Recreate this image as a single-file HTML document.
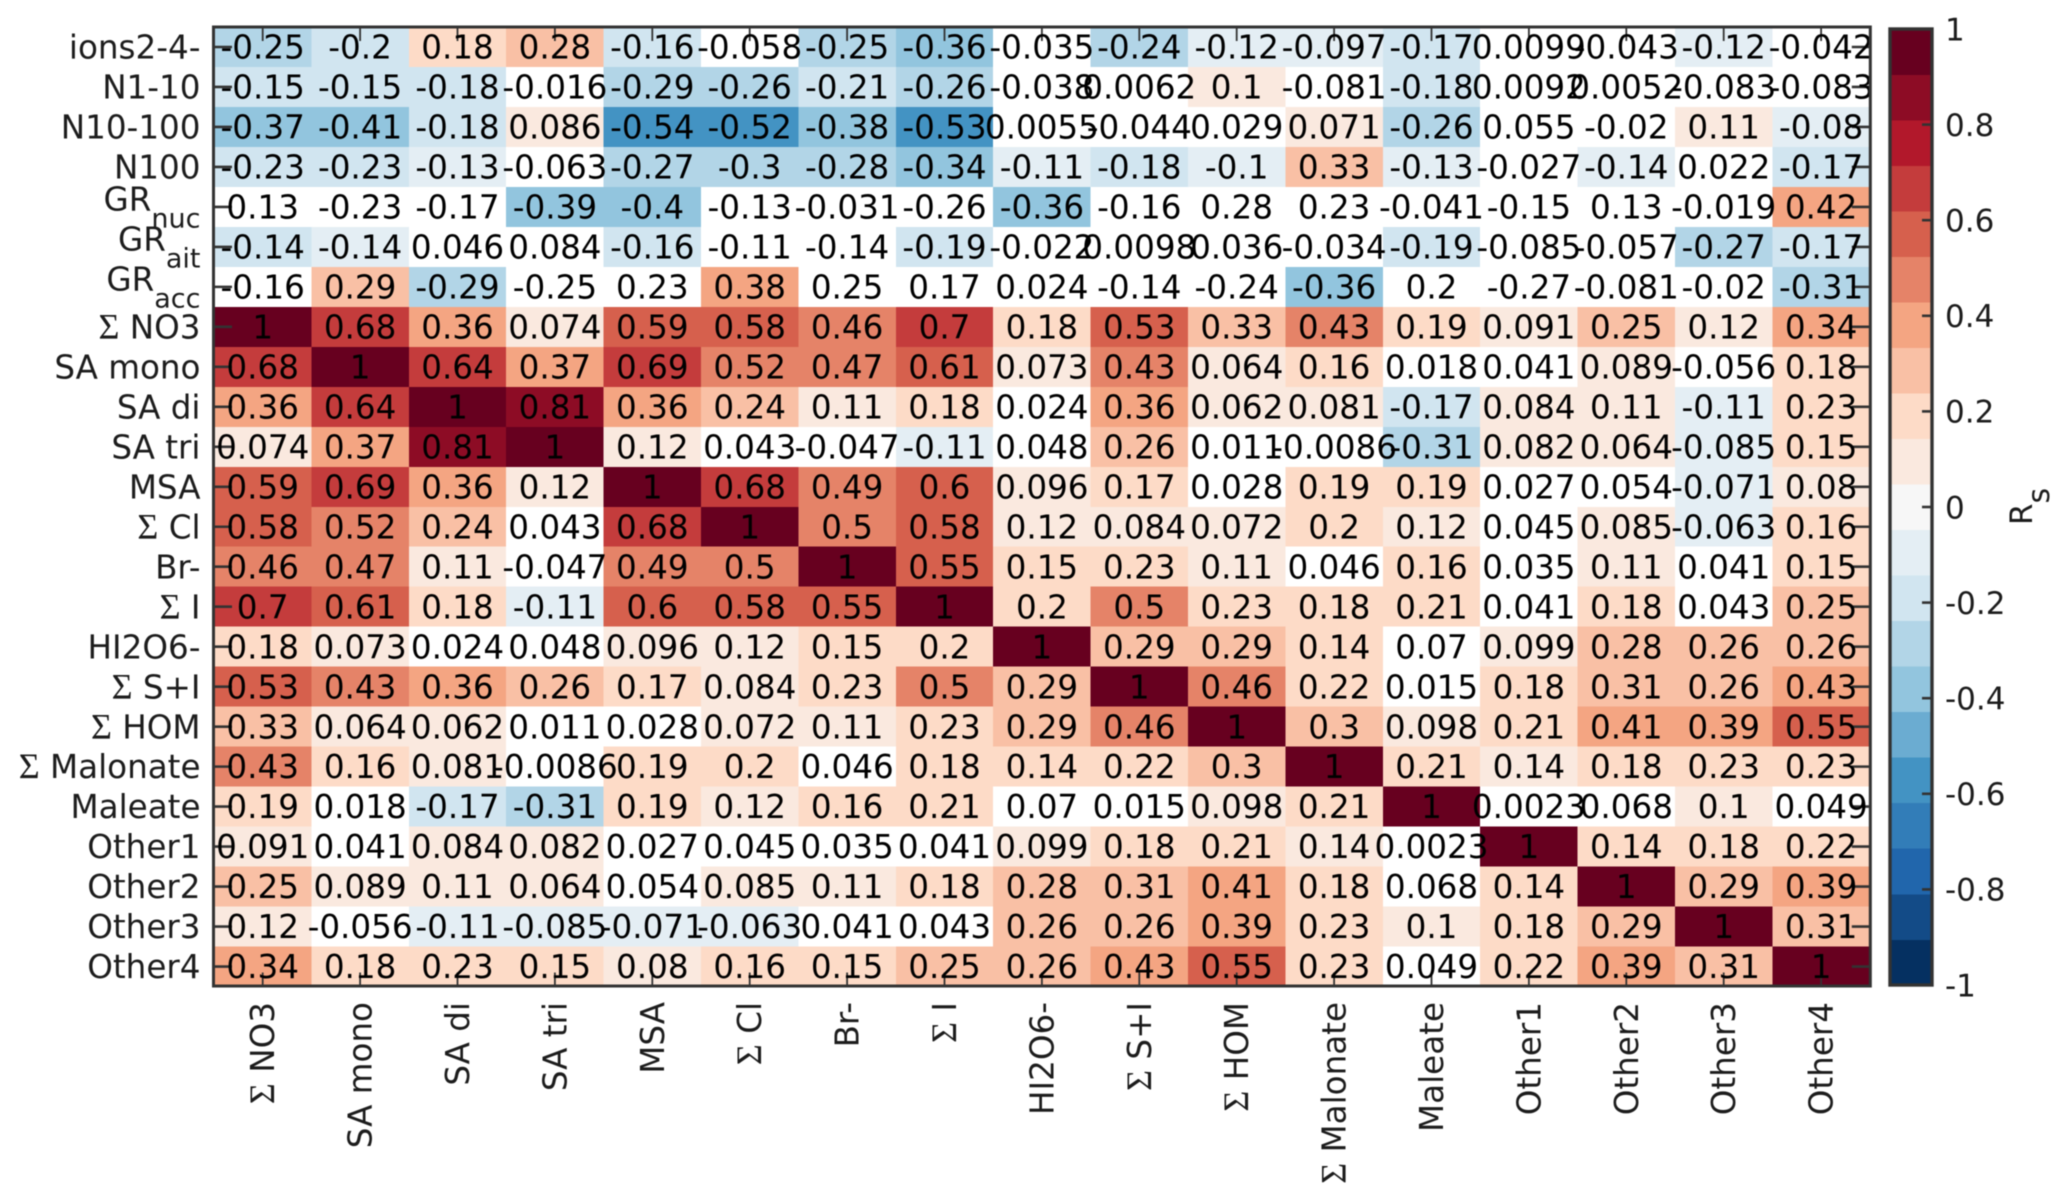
<!DOCTYPE html>
<html lang="en">
<head>
<meta charset="utf-8">
<title>Spearman correlation heatmap</title>
<style>
html,body{margin:0;padding:0;background:#fff;width:2067px;height:1202px;overflow:hidden}
svg{display:block;font-family:"DejaVu Sans","Liberation Sans",sans-serif;filter:blur(0.6px)}
</style>
</head>
<body>
<svg id="chart" xmlns="http://www.w3.org/2000/svg" width="2067" height="1202" viewBox="0 0 2067 1202"></svg>
<script>
const rowLabels = ['ions2-4-','N1-10','N10-100','N100','GR_nuc','GR_ait','GR_acc','Σ NO3','SA mono','SA di','SA tri','MSA','Σ Cl','Br-','Σ I','HI2O6-','Σ S+I','Σ HOM','Σ Malonate','Maleate','Other1','Other2','Other3','Other4'];
const columnLabels = ['Σ NO3','SA mono','SA di','SA tri','MSA','Σ Cl','Br-','Σ I','HI2O6-','Σ S+I','Σ HOM','Σ Malonate','Maleate','Other1','Other2','Other3','Other4'];
const correlationValues = [
[-0.25,-0.2,0.18,0.28,-0.16,-0.058,-0.25,-0.36,-0.035,-0.24,-0.12,-0.097,-0.17,0.0099,-0.043,-0.12,-0.042],
[-0.15,-0.15,-0.18,-0.016,-0.29,-0.26,-0.21,-0.26,-0.038,0.0062,0.1,-0.081,-0.18,0.0092,0.0052,-0.083,-0.083],
[-0.37,-0.41,-0.18,0.086,-0.54,-0.524,-0.38,-0.53,0.0055,-0.044,0.029,0.071,-0.26,0.055,-0.02,0.11,-0.08],
[-0.23,-0.23,-0.13,-0.063,-0.27,-0.3,-0.28,-0.34,-0.11,-0.18,-0.1,0.33,-0.13,-0.027,-0.14,0.022,-0.17],
[0.13,-0.23,-0.17,-0.39,-0.4,-0.13,-0.031,-0.26,-0.36,-0.16,0.28,0.23,-0.041,-0.15,0.13,-0.019,0.42],
[-0.144,-0.14,0.046,0.084,-0.16,-0.11,-0.14,-0.19,-0.022,0.0098,0.036,-0.034,-0.19,-0.085,-0.057,-0.27,-0.17],
[-0.16,0.29,-0.29,-0.25,0.23,0.38,0.25,0.17,0.024,-0.14,-0.24,-0.36,0.2,-0.27,-0.081,-0.02,-0.31],
[1,0.68,0.36,0.074,0.59,0.58,0.46,0.7,0.18,0.53,0.33,0.43,0.19,0.091,0.25,0.12,0.34],
[0.68,1,0.64,0.37,0.69,0.52,0.47,0.61,0.073,0.43,0.064,0.16,0.018,0.041,0.089,-0.056,0.18],
[0.36,0.64,1,0.81,0.36,0.24,0.11,0.18,0.024,0.36,0.062,0.081,-0.17,0.084,0.11,-0.11,0.23],
[0.074,0.37,0.81,1,0.12,0.043,-0.047,-0.11,0.048,0.26,0.011,-0.0086,-0.31,0.082,0.064,-0.085,0.15],
[0.59,0.69,0.36,0.12,1,0.68,0.49,0.6,0.096,0.17,0.028,0.19,0.19,0.027,0.054,-0.071,0.08],
[0.58,0.52,0.24,0.043,0.68,1,0.5,0.58,0.12,0.084,0.072,0.2,0.12,0.045,0.085,-0.063,0.16],
[0.46,0.47,0.11,-0.047,0.49,0.5,1,0.55,0.15,0.23,0.11,0.046,0.16,0.035,0.11,0.041,0.15],
[0.7,0.61,0.18,-0.11,0.6,0.58,0.55,1,0.2,0.5,0.23,0.18,0.21,0.041,0.18,0.043,0.25],
[0.18,0.073,0.024,0.048,0.096,0.12,0.15,0.2,1,0.29,0.29,0.144,0.07,0.099,0.28,0.26,0.26],
[0.53,0.43,0.36,0.26,0.17,0.084,0.23,0.5,0.29,1,0.46,0.22,0.015,0.18,0.31,0.26,0.427],
[0.33,0.064,0.062,0.011,0.028,0.072,0.11,0.23,0.29,0.46,1,0.3,0.098,0.21,0.41,0.39,0.55],
[0.43,0.16,0.081,-0.0086,0.19,0.2,0.046,0.18,0.144,0.22,0.3,1,0.21,0.14,0.18,0.23,0.23],
[0.19,0.018,-0.17,-0.31,0.19,0.12,0.16,0.21,0.07,0.015,0.098,0.21,1,0.0023,0.068,0.1,0.049],
[0.091,0.041,0.084,0.082,0.027,0.045,0.035,0.041,0.099,0.18,0.21,0.14,0.0023,1,0.144,0.18,0.22],
[0.25,0.089,0.11,0.064,0.054,0.085,0.11,0.18,0.28,0.31,0.41,0.18,0.068,0.144,1,0.29,0.39],
[0.12,-0.056,-0.11,-0.085,-0.071,-0.063,0.041,0.043,0.26,0.26,0.39,0.23,0.1,0.18,0.29,1,0.31],
[0.34,0.18,0.23,0.15,0.08,0.16,0.15,0.25,0.26,0.427,0.55,0.23,0.049,0.22,0.39,0.31,1]
];
const significantCells = [
'11111011011110010','11101111001010000','11111111000110011','11101111111110101',
'00011000100000001','11001001000010011','01100100000100001','11111111111111111',
'11111111111100101','11111111011111111','11111001010011111','11111111110110011',
'11101111111110111','11101111111010101','11111111111110101','11001111111101111',
'11111111111101111','11100111111111111','11101101111111111','10111111001110010',
'10110000111101111','11110111111101111','10111100111111111','11111111111101111'
];
const colorbarTicks = [1,0.8,0.6,0.4,0.2,0,-0.2,-0.4,-0.6,-0.8,-1];
const levelCount = 21;
const rdBuAnchors = ['#053061','#2166ac','#4393c3','#92c5de','#d1e5f0','#f7f7f7','#fddbc7','#f4a582','#d6604d','#b2182b','#67001f'];

const svg = document.getElementById('chart');
const NS = 'http://www.w3.org/2000/svg';
const plotLeft = 214, plotTop = 27, colStep = 97.4, rowStep = 39.98;
const plotRight = plotLeft + colStep * columnLabels.length;
const plotBottom = plotTop + rowStep * rowLabels.length;
const barLeft = 1889, barRight = 1933;
const lineColor = '#333';
const labelColor = '#1c1c1c';
const textSize = '32.6';

function xScale(col){ return plotLeft + col * colStep; }
function yScale(row){ return plotTop + row * rowStep; }
function barY(value){ return 507 - 478 * value; }

function hexToRgb(h){ return [1,3,5].map(function(i){ return parseInt(h.substr(i,2),16); }); }
function bandColor(k){
  const t = k / (levelCount - 1) * (rdBuAnchors.length - 1);
  const lo = Math.floor(t), hi = Math.min(lo + 1, rdBuAnchors.length - 1), f = t - lo;
  const a = hexToRgb(rdBuAnchors[lo]), b = hexToRgb(rdBuAnchors[hi]);
  return 'rgb(' + a.map(function(c,i){ return Math.round(c + (b[i] - c) * f); }).join(',') + ')';
}
function bandIndex(v){ return Math.max(0, Math.min(levelCount - 1, Math.floor((v + 1) / 2 * levelCount))); }
function formatValue(v){ return String(parseFloat(v.toPrecision(2))); }

function add(tag, parent, attrs){
  const el = document.createElementNS(NS, tag);
  Object.keys(attrs).forEach(function(k){ el.setAttribute(k, attrs[k]); });
  parent.appendChild(el);
  return el;
}
function addSigma(textEl, label){
  if (label.indexOf('Σ ') === 0) {
    const sigma = add('tspan', textEl, {'font-family':'"Liberation Serif",serif','font-size':'36'});
    sigma.textContent = 'Σ';
    const rest = add('tspan', textEl, {});
    rest.textContent = '\u00a0' + label.slice(2);
  } else {
    textEl.appendChild(document.createTextNode(label));
  }
}

const cellLayer = add('g', svg, {'shape-rendering':'crispEdges'});


const tickLayer = add('g', svg, {stroke:lineColor});


const valueLayer = add('g', svg, {'font-size':textSize,'text-anchor':'middle',fill:'#000'});



correlationValues.forEach(function(row, r){
  row.forEach(function(v, c){
    const sig = significantCells[r].charAt(c) === '1';
    const cell = add('rect', cellLayer, {x:xScale(c), y:yScale(r), width:colStep + 0.3, height:rowStep + 0.3, fill: sig ? bandColor(bandIndex(v)) : '#ffffff'});
    
    
    const t = add('text', valueLayer, {x:xScale(c + 0.5), y:yScale(r + 0.5) + 11.6});
    
    
    t.textContent = formatValue(v);
  });
});

rowLabels.forEach(function(label, r){
  const cy = yScale(r + 0.5);
  const left = add('line', tickLayer, {x1:plotLeft, x2:plotLeft + 18, y1:cy, y2:cy, 'stroke-width':2.6});
  
  
  const right = add('line', tickLayer, {x1:plotRight - 18, x2:plotRight, y1:cy, y2:cy, 'stroke-width':2.6});
  
  
  const parts = label.split('_');
  const t = add('text', svg, {x:200.5, y:cy + (parts.length > 1 ? 3.5 : 11.6), 'font-size':textSize, 'text-anchor':'end', fill:labelColor});
  
  
  addSigma(t, parts[0]);
  if (parts.length > 1) {
    const sub = add('tspan', t, {dy:'17', 'font-size':'27'});
    sub.textContent = parts[1];
  }
});

columnLabels.forEach(function(label, c){
  const cx = xScale(c + 0.5);
  const top = add('line', tickLayer, {x1:cx, x2:cx, y1:plotTop, y2:plotTop + 14, 'stroke-width':1.8});
  
  
  const bottom = add('line', tickLayer, {x1:cx, x2:cx, y1:plotBottom - 14, y2:plotBottom, 'stroke-width':1.8});
  
  
  const t = add('text', svg, {transform:'translate(' + (cx + 11.5) + ',1002) rotate(-90)', 'font-size':textSize, 'text-anchor':'end', fill:labelColor});
  
  
  addSigma(t, label);
});

const frame = add('rect', svg, {x:plotLeft - 0.5, y:plotTop, width:plotRight - plotLeft + 1, height:plotBottom - plotTop - 0.5, fill:'none', stroke:lineColor, 'stroke-width':3});



const colorbar = add('g', svg, {'shape-rendering':'crispEdges'});


for (let k = 0; k < levelCount; k++) {
  const vLow = -1 + 2 * k / levelCount, vHigh = -1 + 2 * (k + 1) / levelCount;
  const band = add('rect', colorbar, {x:barLeft, y:barY(vHigh), width:barRight - barLeft, height:barY(vLow) - barY(vHigh) + 0.3, fill:bandColor(k)});
  
  
}
const barFrame = add('rect', svg, {x:barLeft + 1, y:barY(1), width:barRight - barLeft - 2, height:barY(-1) - barY(1), fill:'none', stroke:lineColor, 'stroke-width':3.4});


colorbarTicks.forEach(function(v){
  const y = barY(v);
  if (Math.abs(v) < 1) {
    const tick = add('line', svg, {x1:barRight - 11, x2:barRight - 1, y1:y, y2:y, stroke:lineColor, 'stroke-width':2.6});
    
    
  }
  const t = add('text', svg, {x:1945, y:y + 11.3, 'font-size':'31', fill:labelColor});
  
  
  t.textContent = String(v);
});

const barTitle = add('text', svg, {transform:'translate(2032,525) rotate(-90)', 'font-size':'31', fill:labelColor});


barTitle.appendChild(document.createTextNode('R'));
const barTitleSub = add('tspan', barTitle, {dy:'17', 'font-size':'30'});
barTitleSub.textContent = 's';
</script>
</body>
</html>
